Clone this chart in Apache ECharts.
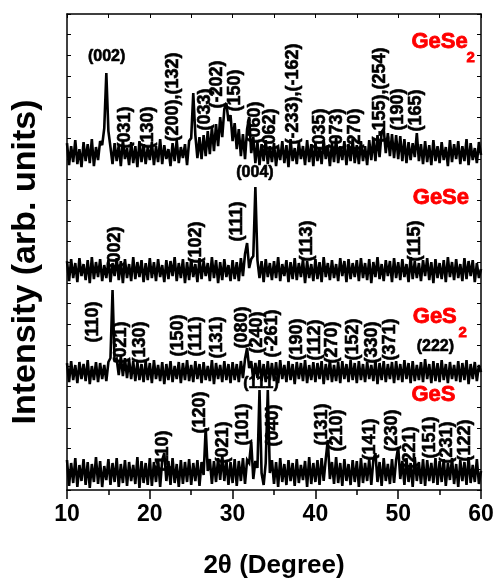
<!DOCTYPE html>
<html><head><meta charset="utf-8">
<script src="https://cdn.jsdelivr.net/npm/echarts@6/dist/echarts.min.js"></script>
<style>html,body{margin:0;padding:0;background:#fff}#c{width:496px;height:587px}</style>
</head><body><div id="c"></div>
<script>
const FONT = "'Liberation Sans',Arial,sans-serif";

// 2-theta sampling of the traces
const thetaStart = 10, thetaStep = 0.25;

// raw intensities (arb. units), one value per 0.25 deg, 10..60
const rawGeSe2 = [
30,8,27,11,33,9,24,6,31,12,29,10,34,7,26,13,32,28,45,100,
42,26,9,30,12,28,7,33,14,25,8,31,10,27,6,32,11,29,9,26,
13,31,8,27,11,34,9,28,14,24,7,30,12,33,10,26,15,29,8,32,
35,80,38,15,36,14,38,17,42,19,46,22,49,27,56,36,64,70,52,58,
32,50,24,44,17,39,14,44,56,20,36,10,31,8,29,12,33,9,27,11,
30,7,26,13,32,10,28,6,34,12,25,9,31,14,27,8,33,11,29,7,
31,12,26,9,33,14,28,7,30,11,35,10,27,13,32,8,29,12,34,10,
28,9,32,12,27,8,33,13,35,12,38,16,41,44,20,40,17,39,15,38,
14,37,12,34,10,31,13,30,16,40,12,29,9,32,11,28,8,33,12,27,
10,31,13,26,7,33,11,29,14,32,9,27,12,34,8,30,13,25,10,31,
18];
const rawGeSe = [
29,9,31,12,27,8,32,14,26,10,30,7,33,11,28,13,31,9,25,12,
30,8,27,14,32,10,29,7,31,12,26,9,33,11,28,13,30,8,27,10,
32,12,28,9,31,13,25,8,30,11,29,14,33,9,27,12,31,7,28,10,
31,13,26,8,32,11,29,14,27,9,33,12,30,7,28,10,31,13,25,9,
30,11,28,9,32,14,36,47,22,31,34,103,30,12,29,8,31,13,27,10,
29,12,33,9,26,14,30,8,28,11,32,10,27,13,31,7,29,12,26,9,
31,11,28,8,33,13,27,10,30,12,26,9,32,14,29,8,31,11,27,13,
30,9,32,12,27,10,31,7,28,13,33,11,26,9,30,14,29,8,32,12,
28,10,31,13,26,8,33,11,29,12,27,9,30,14,32,10,28,7,31,12,
27,11,30,8,33,13,28,10,31,12,26,9,32,11,29,14,30,8,27,12,
21];
const rawGeS2 = [
29,10,31,12,27,9,30,13,28,11,32,8,26,12,30,10,29,13,27,11,
30,34,102,30,33,17,36,16,34,14,33,13,31,11,30,12,28,10,31,12,
29,9,32,13,27,11,30,8,28,12,31,10,26,13,30,9,29,12,32,11,
27,10,31,13,28,9,30,12,26,11,32,8,29,13,27,10,31,12,28,9,
30,12,28,10,31,14,33,44,24,31,12,29,14,32,11,28,10,31,12,29,
11,30,9,32,13,27,10,31,12,28,8,30,13,29,11,32,9,27,12,30,
10,29,13,31,8,28,12,32,10,27,11,30,9,31,13,28,10,32,12,29,
9,31,12,28,10,30,13,27,11,32,8,29,12,31,10,28,13,30,9,31,
12,28,10,32,13,29,9,31,11,27,12,30,10,33,13,28,9,31,11,29,
10,32,12,28,9,30,13,27,11,31,10,29,12,32,8,28,13,30,11,27,
20];
const rawGeS = [
33,7,30,10,35,6,28,12,34,8,31,5,29,11,36,9,32,6,27,13,
34,8,30,11,35,6,29,10,33,7,31,12,28,9,36,5,32,10,30,8,
35,7,31,11,34,6,33,40,12,32,8,35,10,29,6,33,9,31,11,34,
8,30,12,33,7,31,18,65,22,34,9,32,11,35,13,38,12,33,8,31,
10,34,7,32,12,35,9,33,30,51,14,32,25,103,20,8,30,103,20,33,
9,31,6,35,11,29,8,33,12,30,7,34,10,28,13,32,6,36,9,30,
11,33,8,35,12,34,53,14,31,9,36,10,30,7,34,12,29,8,33,11,
32,6,35,10,30,12,34,8,33,40,11,31,7,35,12,29,9,34,10,33,
46,14,32,8,35,11,30,6,36,12,31,9,34,7,33,12,30,10,35,8,
32,11,34,7,30,13,35,9,29,6,33,12,31,8,36,10,28,11,34,9,
22];

// vertical stacking offsets of the four patterns
const traceNames = ['GeSe2','GeSe','GeS2','GeS'];
const traceOffsets = [317, 200, 98, -3];

// rotated (hkl) labels: text, 2theta, y of text start
const rotNames = ['(031)','(130)','(200),(132)','(033)','(-202)','(150)','(060)','(062)','(-233),(-162)','(035)','(073)','(270)','(-155),(254)','(190)','(165)',
  '(002)','(102)','(111)','(113)','(115)',
  '(110)','(021)','(130)','(150)','(111)','(131)','(080)','(240)','(-261)','(190)','(112)','(270)','(152)','(330)','(371)',
  '(110)','(120)','(021)','(101)','(040)','(131)','(210)','(141)','(230)','(221)','(151)','(231)','(122)'];
const rotTheta = [17.02,19.81,22.83,26.79,28.12,30.34,32.76,34.58,37.36,40.63,42.65,44.87,47.89,50.07,52.22,
  15.81,25.70,30.54,39.02,52.13,
  13.15,16.62,18.84,23.44,25.70,28.12,31.15,32.97,34.82,37.81,40.02,42.05,44.62,46.89,49.10,
  21.66,26.10,28.92,31.27,34.94,40.84,42.65,46.68,49.31,51.53,53.95,55.97,58.10];
const rotBase = [341,341,348,359,381,378,346,339,345,339,339,339,347,359,358,
  221,226,248,228,228,
  147,126,126,133,133,131,141,136,132,129,129,126,129,126,129,
  18,56,26,44,43,44,38,29,38,21,31,26,28];

// horizontal black labels
const horNames = ['(002)','(004)','(222)','(111)'];
const horTheta = [14.84, 32.76, 54.55, 33.49];
const horY = [433, 317, 143, 106];

// red sample labels
const redNames = ['GeSe','GeSe','GeS','GeS'];
const redTheta = [51.66, 51.82, 51.82, 51.66];
const redY = [448, 292, 173, 95];
const subTheta = [58.3, 57.34];
const subY = [432, 157];

const raws = [rawGeSe2, rawGeSe, rawGeS2, rawGeS];
const traceSeries = raws.map((arr, k) => ({
  type: 'line', name: traceNames[k], z: 3, silent: true, animation: false,
  symbol: 'none', showSymbol: false,
  lineStyle: {color: '#000', width: 2.6, join: 'miter', miterLimit: 3},
  data: arr.map((v, i) => [thetaStart + i * thetaStep, v + traceOffsets[k]])
}));

const hidden = {color: 'rgba(0,0,0,0)'};
const blackText = {fontFamily: FONT, fontWeight: 'bold', color: '#000',
  textBorderColor: '#000', textBorderWidth: 0.6, opacity: 1};
const rotSeries = {
  type: 'scatter', z: 1, silent: true, animation: false, symbolSize: 1,
  itemStyle: hidden,
  label: Object.assign({show: true, formatter: '{b}', position: [0, 0], rotate: 90,
    align: 'left', verticalAlign: 'middle', fontSize: 18}, blackText),
  data: rotNames.map((n, i) => ({name: n, value: [rotTheta[i], rotBase[i]]}))
};
const horSeries = {
  type: 'scatter', z: 1, silent: true, animation: false, symbolSize: 1,
  itemStyle: hidden,
  label: Object.assign({show: true, formatter: '{b}', position: [0, 0], align: 'center',
    verticalAlign: 'middle', fontSize: 16}, blackText),
  data: horNames.map((n, i) => ({name: n, value: [horTheta[i], horY[i]]}))
};
const redSeries = {
  type: 'scatter', z: 1, silent: true, animation: false, symbolSize: 1,
  itemStyle: hidden,
  label: {show: true, formatter: '{b}', position: [0, 0], align: 'left', verticalAlign: 'middle',
    fontSize: 22, fontFamily: FONT, fontWeight: 'bold', color: '#ff0000',
    textBorderColor: '#ff0000', textBorderWidth: 0.8, opacity: 1},
  data: redNames.map((n, i) => ({name: n, value: [redTheta[i], redY[i]]}))
    .concat(subTheta.map((t, i) => ({name: '2', value: [t, subY[i]],
      label: {fontSize: 15}})))
};

const axLine = {show: true, onZero: false, lineStyle: {color: '#000', width: 1.5}};
const chart = echarts.init(document.getElementById('c'), null, {renderer: 'canvas'});
chart.setOption({
  animation: false,
  backgroundColor: '#fff',
  grid: {left: 67, right: 15, top: 14, bottom: 97, containLabel: false, outerBoundsMode: 'none'},
  xAxis: [
    {type: 'value', min: 10, max: 60, interval: 10, position: 'bottom',
     axisLine: axLine,
     axisTick: {show: true, inside: false, length: 9, lineStyle: {color: '#000', width: 1.5}},
     minorTick: {show: true, splitNumber: 2, length: 5, lineStyle: {color: '#000', width: 1.5}},
     axisLabel: {fontFamily: FONT, fontWeight: 'bold', fontSize: 23, color: '#000', margin: 13},
     splitLine: {show: false},
     name: '2θ (Degree)', nameLocation: 'middle', nameGap: 63,
     nameTextStyle: {fontFamily: FONT, fontWeight: 'bold', fontSize: 26, color: '#000'}},
    {type: 'value', min: 10, max: 60, interval: 5, position: 'top',
     axisLine: axLine,
     axisTick: {show: true, inside: true, length: 4, lineStyle: {color: '#000', width: 1}},
     axisLabel: {show: false}, splitLine: {show: false}}
  ],
  yAxis: [
    {type: 'value', min: 0, max: 476.1, interval: 20.7, position: 'left',
     axisLine: axLine,
     axisTick: {show: true, inside: true, length: 4, lineStyle: {color: '#000', width: 1}},
     axisLabel: {show: false}, splitLine: {show: false},
     name: 'Intensity (arb. units)', nameLocation: 'middle', nameGap: 24,
     nameTextStyle: {fontFamily: FONT, fontWeight: 'bold', fontSize: 34, color: '#000',
       padding: [0, 20, 0, 0]}},
    {type: 'value', min: 0, max: 476.1, interval: 20.7, position: 'right',
     axisLine: axLine,
     axisTick: {show: true, inside: true, length: 4, lineStyle: {color: '#000', width: 1}},
     axisLabel: {show: false}, splitLine: {show: false}}
  ],
  series: traceSeries.concat([rotSeries, horSeries, redSeries])
});
</script>
</body></html>
